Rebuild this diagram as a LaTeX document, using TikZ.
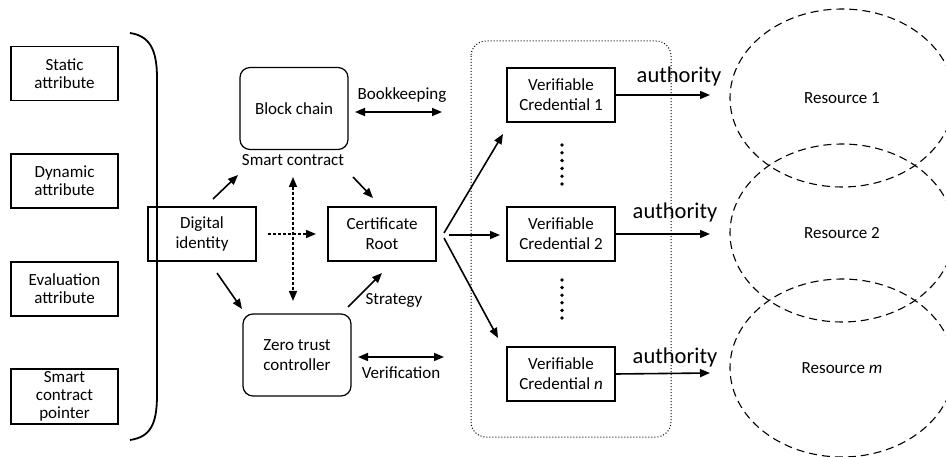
\documentclass[tikz,border=0pt]{standalone}
\usepackage{fontspec}
\setmainfont{Carlito}
\usetikzlibrary{arrows.meta,shapes.geometric}
\begin{document}
\begin{tikzpicture}[x=1pt,y=-1pt,
  box/.style={draw,line width=1.2pt,minimum width=108pt,minimum height=54pt,inner sep=0pt,align=center,font=\fontsize{17}{20}\selectfont},
  lbox/.style={box,minimum width=107pt,font=\fontsize{17}{18}\selectfont},
  rbox/.style={box,rounded corners=10pt,minimum height=82pt},
  lbl/.style={inner sep=0pt,font=\fontsize{17}{20}\selectfont},
  alabel/.style={inner sep=0pt,font=\fontsize{22.5}{26}\selectfont},
  arr/.style={line width=1.6pt,-{Triangle[length=10pt,width=8pt]}},
  darr/.style={line width=1.6pt,{Triangle[length=10pt,width=8pt]}-{Triangle[length=10pt,width=8pt]}},
  dash arr/.style={arr,dash pattern=on 3pt off 2pt},
  ddash arr/.style={darr,dash pattern=on 3pt off 2pt},
  res/.style={draw,ellipse,line width=1.1pt,dash pattern=on 8pt off 5pt,minimum width=224pt,minimum height=178pt,inner sep=0pt,font=\fontsize{17}{20}\selectfont},
  dot/.style={fill,circle,inner sep=0pt,minimum size=3.8pt}
]
\useasboundingbox (0,0) rectangle (946,457);
\clip (0,0) rectangle (946,457);

% left attribute boxes
\node[lbox] (sa) at (64.5,73.5) {Static\\attribute};
\node[lbox] (da) at (64.5,181) {Dynamic\\attribute};
\node[lbox] (ea) at (64.5,289) {Evaluation\\attribute};
\node[lbox,minimum height=55pt] (sp) at (64.5,396.5) {};
\node[inner sep=0pt,align=center,font=\fontsize{17}{18}\selectfont] (spt) at (sp) {Smart\\contract\\pointer};

% brace
\draw[line width=1.8pt] (130,33) .. controls (150,36) and (157,50) .. (157,78) -- (157,395) .. controls (157,425) and (150,437) .. (130,440);

% central nodes
\node[box] (di) at (202,234) {Digital\\identity};
\node[box] (cr) at (382,234) {Certificate\\Root};
\node[rbox] (bc) at (294,108.5) {Block chain};
\node[rbox] (zt) at (297,355) {Zero trust\\controller};

\node[lbl] (sc) at (293,160) {Smart contract};
\node[lbl] (bk) at (402,95) {Bookkeeping};
\node[lbl] (vf) at (401,373) {Verification};
\node[lbl] (st) at (394,300) {Strategy};

% container
\draw[dotted,line width=1pt,rounded corners=15pt] (471,41) rectangle (671,437);

% VC boxes
\node[box] (vc1) at (561,95) {Verifiable\\Credential 1};
\node[box] (vc2) at (561,234) {Verifiable\\Credential 2};
\node[box] (vcn) at (561,374) {Verifiable\\Credential \textit{n}};

% resources
\node[res] (r1) at (842,98) {Resource 1};
\node[res] (r2) at (842,233) {Resource 2};
\node[res] (rm) at (842,368) {Resource \textit{m}};

% authority labels
\node[alabel] (a1) at (679,77) {authority};
\node[alabel] (a2) at (675,213) {authority};
\node[alabel] (a3) at (675,358) {authority};

% coordinates
\coordinate (bkl) at (355,112);
\coordinate (bkr) at (442,112);
\coordinate (vfl) at (358,357);
\coordinate (vfr) at (444,357);
\coordinate (d1s) at (213,199); \coordinate (d1e) at (238,175);
\coordinate (c1s) at (353,177); \coordinate (c1e) at (373,198);
\coordinate (z1s) at (348,307); \coordinate (z1e) at (382,273);
\coordinate (d2s) at (217,273); \coordinate (d2e) at (242,309);
\coordinate (vs) at (293,177); \coordinate (ve) at (293,301);
\coordinate (hs) at (268,234); \coordinate (he) at (316,234);
\coordinate (f1) at (444,233); \coordinate (f2) at (449,235); \coordinate (f3) at (444,238);
\coordinate (t1) at (503,134); \coordinate (t2) at (500,235); \coordinate (t3) at (498,338);
\coordinate (e1) at (710,95); \coordinate (e2) at (710,234); \coordinate (e3) at (710,373);

% connectors
\draw[darr] (bkl) -- (bkr);
\draw[darr] (vfl) -- (vfr);
\draw[arr] (d1s) -- (d1e);
\draw[arr] (c1s) -- (c1e);
\draw[arr] (z1s) -- (z1e);
\draw[arr] (d2s) -- (d2e);
\draw[ddash arr] (vs) -- (ve);
\draw[dash arr] (hs) -- (he);
\draw[arr] (f1) -- (t1);
\draw[arr] (f2) -- (t2);
\draw[arr] (f3) -- (t3);
\draw[arr] (vc1.east) -- (e1);
\draw[arr] (vc2.east) -- (e2);
\draw[arr] (vcn.east) -- (e3);

% vertical dots
\foreach \y in {145,152.8,160.6,168.4,176.2,184} \node[dot] at (562,\y) {};
\foreach \y in {280,287.6,295.2,302.8,310.4,318} \node[dot] at (562,\y) {};
\end{tikzpicture}
\end{document}
